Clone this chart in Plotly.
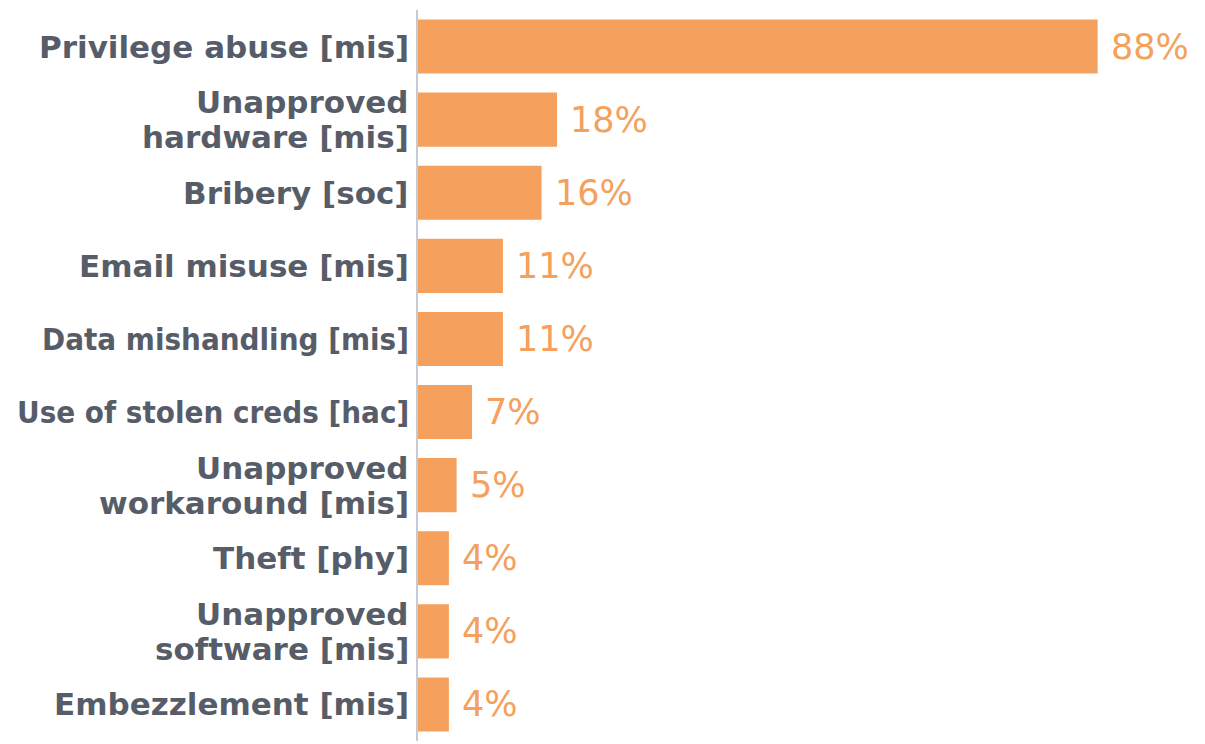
import plotly.graph_objects as go

categories = [
    "Privilege abuse [mis]",
    "Unapproved<br>hardware [mis]",
    "Bribery [soc]",
    "Email misuse [mis]",
    "Data mishandling [mis]",
    "Use of stolen creds [hac]",
    "Unapproved<br>workaround [mis]",
    "Theft [phy]",
    "Unapproved<br>software [mis]",
    "Embezzlement [mis]",
]
values = [88, 18, 16, 11, 11, 7, 5, 4, 4, 4]
value_labels = ["88%", "18%", "16%", "11%", "11%", "7%", "5%", "4%", "4%", "4%"]

BAR = "#F5A05C"
TXT = "#575D68"
FONT = "DejaVu Sans"
FONT_COND = "DejaVu Sans Condensed"
# labels set tighter in the reference
CONDENSED = {"Data mishandling [mis]", "Use of stolen creds [hac]"}

fig = go.Figure(go.Bar(
    x=values, y=categories, orientation="h",
    marker=dict(color=BAR, line=dict(width=0)),
    hoverinfo="skip",
))

# value labels
for v, c, t in zip(values, categories, value_labels):
    fig.add_annotation(x=v, y=c, text=t, xanchor="left", yanchor="middle",
                       xshift=11, showarrow=False,
                       font=dict(family=FONT, size=35, color=BAR))

# category labels (tight line spacing like the reference)
LINE = 35
for c in categories:
    lines = c.split("<br>")
    n = len(lines)
    fam = FONT_COND if c in CONDENSED else FONT
    for i, ln in enumerate(lines):
        off = ((n - 1) / 2 - i) * LINE
        fig.add_annotation(x=0, y=c, text=ln, xanchor="right", yanchor="middle",
                           xshift=-7, yshift=off, showarrow=False,
                           font=dict(family=fam, size=31, color=TXT, weight="bold"))

fig.update_layout(
    width=1197, height=736,
    margin=dict(l=410, r=0, t=2, b=3),
    paper_bgcolor="white", plot_bgcolor="white",
    bargap=0.26,
    showlegend=False,
    xaxis=dict(range=[0, 101.9], visible=False, fixedrange=True),
    yaxis=dict(autorange="reversed", showline=True, linecolor="#C5CAD3", linewidth=2,
               showgrid=False, zeroline=False, ticks="", showticklabels=False),
)

fig.write_html("out.html")
